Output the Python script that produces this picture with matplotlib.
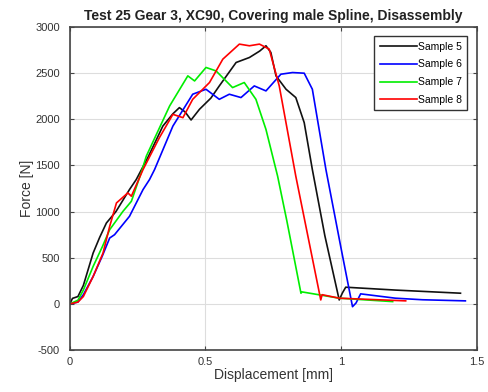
import numpy as np
import matplotlib.pyplot as plt

plt.rcParams.update({"font.family": ["Liberation Sans", "DejaVu Sans"], "font.size": 8,
                     "axes.unicode_minus": False})

# displacement [mm] / force [N]
s5_x = [0.0, 0.01, 0.03, 0.05, 0.086, 0.11, 0.135, 0.17, 0.22, 0.245, 0.29, 0.343, 0.38, 0.404,
        0.425, 0.447, 0.478, 0.52, 0.551, 0.613, 0.662, 0.70, 0.723, 0.741, 0.76, 0.797, 0.833,
        0.864, 0.894, 0.94, 0.993, 1.005, 1.017, 1.2, 1.44]
s5_y = [0, 60, 80, 200, 551, 720, 877, 1000, 1239, 1348, 1600, 1927, 2060, 2127,
        2080, 1993, 2109, 2230, 2362, 2616, 2670, 2740, 2797, 2725, 2471, 2326, 2236,
        1964, 1456, 740, 43, 120, 181, 150, 116]

s6_x = [0.0, 0.03, 0.05, 0.086, 0.12, 0.147, 0.165, 0.22, 0.27, 0.294, 0.3125, 0.38, 0.453,
        0.502, 0.551, 0.588, 0.631, 0.68, 0.723, 0.778, 0.821, 0.864, 0.894, 0.944, 1.0, 1.042,
        1.055, 1.072, 1.2, 1.3, 1.458]
s6_y = [0, 20, 100, 297, 520, 714, 750, 949, 1239, 1348, 1456, 1927, 2272,
        2326, 2217, 2272, 2236, 2362, 2308, 2489, 2507, 2500, 2326, 1456, 600, -30,
        10, 109, 62, 45, 33]

s7_x = [0.0, 0.03, 0.05, 0.086, 0.12, 0.147, 0.196, 0.227, 0.263, 0.282, 0.368, 0.435, 0.46,
        0.502, 0.539, 0.6, 0.643, 0.686, 0.723, 0.766, 0.80, 0.852, 0.856, 0.993, 1.19]
s7_y = [0, 40, 150, 406, 620, 804, 1003, 1112, 1420, 1601, 2145, 2471, 2416,
        2562, 2525, 2344, 2399, 2217, 1891, 1384, 900, 116, 130, 62, 25]

s8_x = [0.0, 0.03, 0.05, 0.086, 0.1225, 0.147, 0.172, 0.214, 0.227, 0.27, 0.33, 0.38, 0.417,
        0.453, 0.515, 0.564, 0.625, 0.662, 0.699, 0.735, 0.772, 0.833, 0.925, 0.93, 0.993, 1.238]
s8_y = [0, 20, 80, 297, 551, 840, 1094, 1203, 1167, 1456, 1800, 2054, 2018,
        2217, 2399, 2652, 2815, 2797, 2815, 2761, 2362, 1384, 43, 100, 62, 33]

series = [("Sample 5", s5_x, s5_y, "#111111"),
          ("Sample 6", s6_x, s6_y, "#0000ff"),
          ("Sample 7", s7_x, s7_y, "#00ee00"),
          ("Sample 8", s8_x, s8_y, "#ff0000")]

fig = plt.figure(figsize=(4.88, 3.92), dpi=100)
ax = fig.add_axes([0.143, 0.107, 0.834, 0.824])

for name, xs, ys, c in series:
    ax.plot(xs, ys, color=c, lw=1.2, label=name)

ax.set_xlim(0, 1.5); ax.set_ylim(-500, 3000)
ax.set_xticks([0, 0.5, 1, 1.5]); ax.set_xticklabels(["0", "0.5", "1", "1.5"])
ax.set_yticks(np.arange(-500, 3001, 500))
ax.grid(True, color="#dddddd", lw=0.8)
ax.tick_params(direction="in", top=True, right=True, length=3, colors="#444444",
               labelcolor="#333333", labelsize=8)
ax.tick_params(axis="y", pad=7)
ax.tick_params(axis="x", pad=5)
for s in ax.spines.values():
    s.set_color("#444444"); s.set_linewidth(1.2)

ax.set_xlabel("Displacement [mm]", fontsize=10, color="#333333", labelpad=1)
ax.set_ylabel("Force [N]", fontsize=10, color="#333333", labelpad=1)
ax.set_title("Test 25 Gear 3, XC90, Covering male Spline, Disassembly", fontsize=10,
             weight="bold", color="#222222", pad=5)

leg = ax.legend(loc="upper right", fontsize=7.5, handlelength=3.6, handletextpad=0.1,
                fancybox=False, framealpha=1, borderaxespad=0.9, labelspacing=0.75,
                borderpad=0.5)
leg.get_frame().set_edgecolor("#333333"); leg.get_frame().set_linewidth(1.0)

fig.savefig("out.png", dpi=100)
